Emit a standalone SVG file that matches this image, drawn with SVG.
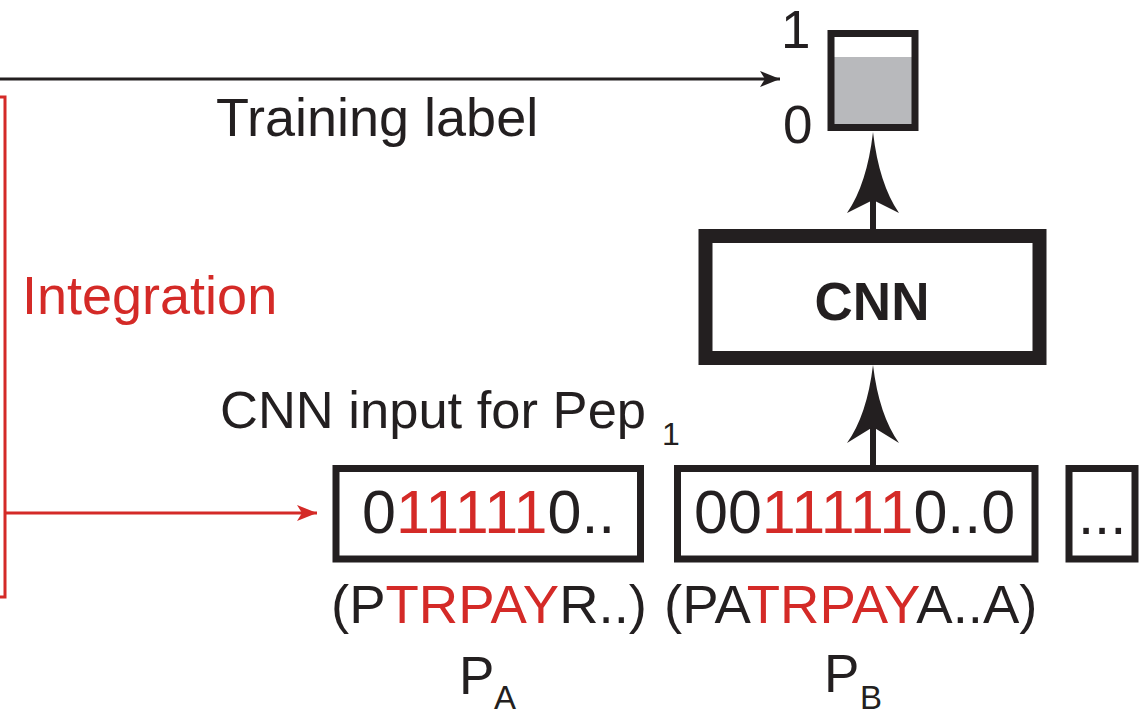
<svg xmlns="http://www.w3.org/2000/svg" width="1140" height="715" viewBox="0 0 1140 715">
<defs>
<style>
text{font-family:"Liberation Sans",Arial,sans-serif;fill:#231f20}
.red{fill:#d42a27}
.box{fill:#fff;stroke:#231f20;stroke-width:7}
.thin{stroke:#231f20;stroke-width:3;fill:none}
.redl{stroke:#d42a27;stroke-width:3;fill:none}
.shaft{stroke:#231f20;stroke-width:6;fill:none}
.head{fill:#231f20}
</style>
<marker id="ah" markerWidth="20" markerHeight="16" viewBox="0 0 20 16" refX="20" refY="8" orient="auto" markerUnits="userSpaceOnUse">
<path d="M0,0 L20,8 L0,16 L5,8 Z" fill="#231f20"/>
</marker>
<marker id="ahr" markerWidth="20" markerHeight="16" viewBox="0 0 20 16" refX="20" refY="8" orient="auto" markerUnits="userSpaceOnUse">
<path d="M0,0 L20,8 L0,16 L5,8 Z" fill="#d42a27"/>
</marker>
</defs>
<rect width="1140" height="715" fill="#fff"/>

<g id="connectors">
<line class="thin" x1="0" y1="79" x2="780" y2="79" marker-end="url(#ah)"/>
<path class="redl" d="M0,97 H5 V597 H0"/>
<line class="redl" x1="5" y1="513" x2="317" y2="513" marker-end="url(#ahr)"/>
<line class="shaft" x1="873" y1="200" x2="873" y2="230"/>
<path class="head" d="M873,132 Q879,184 899,213 L873,200 L847,213 Q867,184 873,132 Z"/>
<line class="shaft" x1="873" y1="427" x2="873" y2="466"/>
<path class="head" d="M873,365 Q879,415 899,443 L873,427 L847,443 Q867,415 873,365 Z"/>
</g>

<g id="output">
<rect x="834" y="57" width="78" height="67" fill="#b8b9bc"/>
<rect x="831" y="33.5" width="84" height="94" fill="none" stroke="#231f20" stroke-width="7"/>
<text x="781" y="48" font-size="53">1</text>
<text x="783" y="143" font-size="53">0</text>
</g>

<g id="training-label">
<text x="216" y="136" font-size="54">Training label</text>
</g>

<g id="integration-label">
<text class="red" x="22" y="314" font-size="54">Integration</text>
</g>

<g id="cnn">
<rect x="705.5" y="236" width="334" height="122" fill="#fff" stroke="#231f20" stroke-width="14"/>
<text x="872" y="320" font-size="53" font-weight="bold" text-anchor="middle">CNN</text>
</g>

<g id="cnn-input-label">
<text x="220" y="428" font-size="52.5">CNN input for Pep</text>
<text x="662" y="445" font-size="32">1</text>
</g>

<g id="input-a">
<rect class="box" x="336" y="468.5" width="304.5" height="90.5"/>
<text x="362" y="533" font-size="61">0<tspan class="red">11111</tspan>0..</text>
<text x="331" y="623" font-size="54.5">(P<tspan class="red">TRPAY</tspan>R..)</text>
<text x="459" y="694" font-size="53">P</text>
<text x="494" y="709" font-size="33">A</text>
</g>

<g id="input-b">
<rect class="box" x="677.5" y="468.5" width="357.5" height="90.5"/>
<text x="694" y="533" font-size="61">00<tspan class="red">11111</tspan>0..0</text>
<text x="664" y="623" font-size="54.5">(PA<tspan class="red">TRPAY</tspan>A..A)</text>
<text x="824" y="692" font-size="53">P</text>
<text x="860" y="709" font-size="33">B</text>
</g>

<g id="input-c">
<rect class="box" x="1069" y="468.5" width="66" height="90.5"/>
<text x="1078" y="534" font-size="58">...</text>
</g>
</svg>
